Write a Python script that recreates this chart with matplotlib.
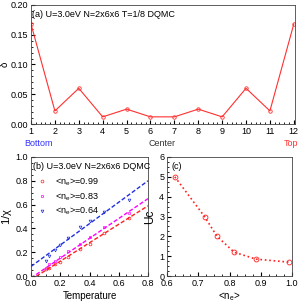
import matplotlib.pyplot as plt
import numpy as np
from matplotlib.ticker import MultipleLocator, FormatStrFormatter

# panel (a): layer-resolved delta
layers = [1, 2, 3, 4, 5, 6, 7, 8, 9, 10, 11, 12]
delta = [0.168, 0.022, 0.060, 0.012, 0.025, 0.012, 0.012, 0.025, 0.012, 0.060, 0.022, 0.168]

# panel (b): inverse susceptibility vs temperature
temps = [0.1, 0.125, 0.167, 0.2, 0.25, 0.333, 0.4, 0.5, 0.667]
inv_chi_099 = [0.055, 0.07, 0.10, 0.12, 0.16, 0.23, 0.27, 0.36, 0.49]
inv_chi_083 = [0.07, 0.10, 0.13, 0.16, 0.21, 0.27, 0.33, 0.41, 0.53]
inv_chi_064 = [0.13, 0.17, 0.22, 0.26, 0.32, 0.41, 0.46, 0.54, 0.64]
fit_end = [0.0, 0.8]
fit_099 = [-0.031, 0.59]
fit_083 = [-0.017, 0.65]
fit_064 = [0.08, 0.80]

# panel (c): critical U vs filling
ne = [0.625, 0.72, 0.76, 0.815, 0.885, 0.99]
uc = [5.0, 3.0, 2.0, 1.2, 0.85, 0.7]

fs = 6.5
plt.rcParams['font.size'] = fs
plt.rcParams['font.family'] = ['Liberation Sans', 'DejaVu Sans']
plt.rcParams['mathtext.fontset'] = 'custom'
plt.rcParams['mathtext.rm'] = 'Liberation Sans'
plt.rcParams['mathtext.it'] = 'Liberation Sans'


def style(ax):
    ax.tick_params(direction='in', which='both', top=False, right=False, labelsize=fs, pad=2)
    ax.tick_params(which='major', length=3)
    ax.tick_params(which='minor', length=1.5)
    for s in ax.spines.values():
        s.set_linewidth(0.6)
        s.set_color('#444444')


fig = plt.figure(figsize=(2.99, 3.06), dpi=100)
W, H = 299, 306

ax1 = fig.add_axes([31 / W, 1 - 124 / H, (295 - 31) / W, (124 - 5) / H])
ax1.plot(layers, delta, color='#ff3030', lw=0.8, marker='o', ms=2.5, mfc='none', mew=0.6)
ax1.set_xlim(1, 12.05)
ax1.set_ylim(0, 0.2)
ax1.set_xticks(layers)
ax1.yaxis.set_major_locator(MultipleLocator(0.05))
ax1.yaxis.set_minor_locator(MultipleLocator(0.01))
ax1.xaxis.set_minor_locator(MultipleLocator(0.2))
ax1.yaxis.set_major_formatter(FormatStrFormatter('%.2f'))
ax1.set_ylabel(r'$\tilde{\delta}$', fontsize=7)
ax1.yaxis.set_label_coords(-0.076, 0.5)
ax1.text(0.005, 0.955, '(a) U=3.0eV N=2x6x6 T=1/8 DQMC', transform=ax1.transAxes,
         fontsize=fs, va='top', ha='left')
ax1.text(1.3, -0.026, 'Bottom', color='#3333ff', ha='center', va='top', fontsize=fs)
ax1.text(6.5, -0.026, 'Center', color='#333333', ha='center', va='top', fontsize=fs)
ax1.text(11.9, -0.026, 'Top', color='#ff3030', ha='center', va='top', fontsize=fs)
style(ax1)

ax2 = fig.add_axes([31 / W, 1 - 276 / H, (148 - 31) / W, (276 - 157) / H])
ax2.plot(fit_end, fit_099, color='#ff2020', ls=(0, (3, 1.5)), lw=1.0)
ax2.plot(fit_end, fit_083, color='#ff00ff', ls=(0, (3, 1.5)), lw=1.0)
ax2.plot(fit_end, fit_064, color='#2030e0', ls=(0, (3, 1.5)), lw=1.0)
ax2.plot(temps, inv_chi_099, ls='none', marker='o', ms=2, mfc='none', mec='#ff2020', mew=0.5,
         label=r'<n$_e$>=0.99')
ax2.plot(temps, inv_chi_083, ls='none', marker='s', ms=2, mfc='none', mec='#ff00ff', mew=0.5,
         label=r'<n$_e$>=0.83')
ax2.plot(temps, inv_chi_064, ls='none', marker='v', ms=2, mfc='none', mec='#2030e0', mew=0.5,
         label=r'<n$_e$>=0.64')
ax2.set_xlim(0, 0.8)
ax2.set_ylim(0, 1.0)
ax2.xaxis.set_major_locator(MultipleLocator(0.2))
ax2.xaxis.set_minor_locator(MultipleLocator(0.05))
ax2.yaxis.set_major_locator(MultipleLocator(0.2))
ax2.yaxis.set_minor_locator(MultipleLocator(0.05))
ax2.set_xlabel('Temperature', fontsize=fs + 0.5, labelpad=2)
ax2.set_ylabel(r'1/$\chi$', fontsize=fs + 1.5, labelpad=1)
ax2.text(0.02, 0.96, '(b) U=3.0eV N=2x6x6 DQMC', transform=ax2.transAxes,
         fontsize=fs, va='top', ha='left')
ax2.legend(loc='upper left', bbox_to_anchor=(-0.02, 0.89), frameon=False, fontsize=fs,
           handlelength=1.6, handletextpad=0.6, labelspacing=0.35, borderpad=0.2)
style(ax2)

ax3 = fig.add_axes([167 / W, 1 - 276 / H, (292 - 167) / W, (276 - 157) / H])
ax3.plot(ne, uc, color='#ff2020', ls=':', lw=1.2, marker='o', ms=3.5, mfc='none', mew=0.6)
ax3.set_xlim(0.6, 1.0)
ax3.set_ylim(0, 6)
ax3.xaxis.set_major_locator(MultipleLocator(0.1))
ax3.xaxis.set_minor_locator(MultipleLocator(0.025))
ax3.yaxis.set_major_locator(MultipleLocator(1))
ax3.yaxis.set_minor_locator(MultipleLocator(0.25))
ax3.set_xlabel(r'<n$_e$>', fontsize=fs + 0.5, labelpad=2)
ax3.set_ylabel('Uc', fontsize=fs + 2, labelpad=2)
ax3.text(0.04, 0.96, '(c)', transform=ax3.transAxes, fontsize=fs, va='top', ha='left')
style(ax3)

fig.savefig('out.png', dpi=100)
